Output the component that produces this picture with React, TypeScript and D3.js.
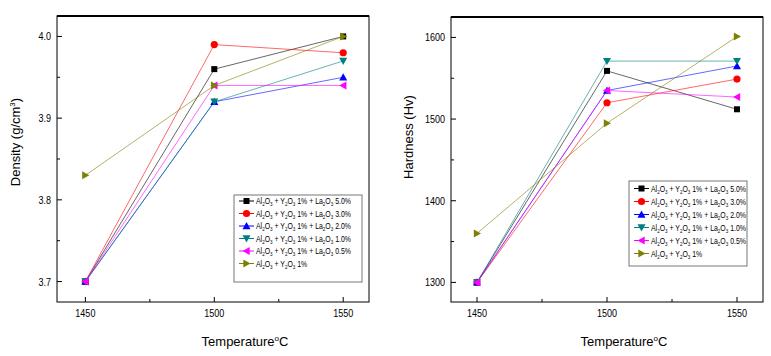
import React from 'react';
import * as d3 from 'd3';

const temperatures = [1450, 1500, 1550];
const seriesNames = [
  'Al_2O_3 + Y_2O_3 1% + La_2O_3 5.0%',
  'Al_2O_3 + Y_2O_3 1% + La_2O_3 3.0%',
  'Al_2O_3 + Y_2O_3 1% + La_2O_3 2.0%',
  'Al_2O_3 + Y_2O_3 1% + La_2O_3 1.0%',
  'Al_2O_3 + Y_2O_3 1% + La_2O_3 0.5%',
  'Al_2O_3 + Y_2O_3 1%',
];
const densityLa50 = [3.70, 3.96, 4.00];
const densityLa30 = [3.70, 3.99, 3.98];
const densityLa20 = [3.70, 3.92, 3.95];
const densityLa10 = [3.70, 3.92, 3.97];
const densityLa05 = [3.70, 3.94, 3.94];
const densityLa00 = [3.83, 3.94, 4.00];
const hardnessLa50 = [1300, 1559, 1512];
const hardnessLa30 = [1300, 1520, 1549];
const hardnessLa20 = [1300, 1535, 1565];
const hardnessLa10 = [1300, 1571, 1571];
const hardnessLa05 = [1300, 1535, 1527];
const hardnessLa00 = [1360, 1495, 1601];
const densityTicks = [3.7, 3.8, 3.9, 4.0];
const densityMinor = [3.75, 3.85, 3.95];
const hardnessTicks = [1300, 1400, 1500, 1600];
const hardnessMinor = [1350, 1450, 1550];
const xMinor = [1475, 1525];
const colors = ['#000000', '#ff0000', '#0000ff', '#008080', '#ff00ff', '#808000'];
const shapes = ['square', 'circle', 'up', 'down', 'left', 'right'];

const FONT = "'Liberation Sans', Arial, sans-serif";

function Marker({ shape, x, y, color, r = 3.6 }: any) {
  if (shape === 'square') return <rect x={x - 3} y={y - 3} width={6} height={6} fill={color} />;
  if (shape === 'circle') return <circle cx={x} cy={y} r={r} fill={color} />;
  let pts: number[][] = [];
  const s = 4;
  if (shape === 'up') pts = [[x, y - s], [x + s, y + s * 0.8], [x - s, y + s * 0.8]];
  if (shape === 'down') pts = [[x, y + s], [x + s, y - s * 0.8], [x - s, y - s * 0.8]];
  if (shape === 'left') pts = [[x - s, y], [x + s * 0.8, y - s], [x + s * 0.8, y + s]];
  if (shape === 'right') pts = [[x + s, y], [x - s * 0.8, y - s], [x - s * 0.8, y + s]];
  return <polygon points={pts.map(p => p.join(',')).join(' ')} fill={color} />;
}

function SText({ x, y, sx = 0.8, anchor = 'start', size, children }: any) {
  return (
    <g transform={`translate(${x},${y}) scale(${sx},1)`}>
      <text x={0} y={0} textAnchor={anchor} fontSize={size} fontFamily={FONT} fill="#000">{children}</text>
    </g>
  );
}

function subParts(text: string, size: number) {
  const parts = text.split(/(_\d)/);
  const nodes: any[] = [];
  let shifted = false;
  parts.forEach((p: string, i: number) => {
    if (!p) return;
    if (p.startsWith('_')) {
      nodes.push(<tspan key={i} dy={shifted ? 0 : 2} fontSize={size * 0.65}>{p.slice(1)}</tspan>);
      shifted = true;
    } else {
      nodes.push(<tspan key={i} dy={shifted ? -2 : 0}>{p}</tspan>);
      shifted = false;
    }
  });
  return nodes;
}

function Chart(props: any) {
  const { x0, x1, y0, y1, xDomain, yDomain, yTicks, yMinor, yFmt, data, legend, title, titleX, titleY, xTitleX } = props;
  const xs = d3.scaleLinear().domain(xDomain).range([x0, x1]);
  const ys = d3.scaleLinear().domain(yDomain).range([y1, y0]);
  const line = d3.line<number>().x((_, i) => xs(temperatures[i])).y(d => ys(d));
  return (
    <g>
      {data.map((d: number[], si: number) => (
        <path key={'l' + si} d={line(d) || ''} fill="none" stroke={colors[si]} strokeWidth={0.8} strokeOpacity={0.75} />
      ))}
      {data.map((d: number[], si: number) => d.map((v, i) => (
        <Marker key={'m' + si + '-' + i} shape={shapes[si]} x={xs(temperatures[i])} y={ys(v)} color={colors[si]} />
      )))}
      <rect x={x0} y={y0} width={x1 - x0} height={y1 - y0} fill="none" stroke="#000" strokeWidth={1} />
      <line x1={x0} x2={x1} y1={y0} y2={y0} stroke="#000" strokeWidth={2} />
      {yTicks.map((t: number) => (
        <g key={'yt' + t}>
          <line x1={x0} x2={x0 + 5} y1={ys(t)} y2={ys(t)} stroke="#000" />
          <SText x={x0 - 6} y={ys(t) + 4} anchor="end" size={11} sx={0.82}>{yFmt(t)}</SText>
        </g>
      ))}
      {yMinor.map((t: number) => (
        <line key={'ym' + t} x1={x0} x2={x0 + 3} y1={ys(t)} y2={ys(t)} stroke="#000" />
      ))}
      {temperatures.map(t => (
        <g key={'xt' + t}>
          <line x1={xs(t)} x2={xs(t)} y1={y1} y2={y1 - 5} stroke="#000" />
          <SText x={xs(t)} y={y1 + 15} anchor="middle" size={11} sx={0.82}>{t}</SText>
        </g>
      ))}
      {xMinor.map(t => (
        <line key={'xm' + t} x1={xs(t)} x2={xs(t)} y1={y1} y2={y1 - 3} stroke="#000" />
      ))}
      <text x={xTitleX} y={346} textAnchor="middle" fontSize={13} fontFamily={FONT}>
        Temperature<tspan dy={-5} fontSize={8}>o</tspan><tspan dy={5}>C</tspan>
      </text>
      <text transform={`translate(${titleX},${titleY}) rotate(-90)`} textAnchor="middle" fontSize={13} fontFamily={FONT} dy="0.35em">
        {title}
      </text>
      <rect x={legend.x} y={legend.y} width={legend.w} height={legend.h} fill="#fff" stroke="#777" strokeWidth={1} />
      {seriesNames.map((n, i) => {
        const ly = legend.y + legend.first + i * legend.step;
        return (
          <g key={'lg' + i}>
            <line x1={legend.x + 5} x2={legend.x + 20} y1={ly} y2={ly} stroke={colors[i]} />
            <Marker shape={shapes[i]} x={legend.x + 12.5} y={ly} color={colors[i]} />
            <SText x={legend.x + 22} y={ly + 3} size={9} sx={0.77}>{subParts(n, 9)}</SText>
          </g>
        );
      })}
    </g>
  );
}

export default function App() {
  const densityData = [densityLa50, densityLa30, densityLa20, densityLa10, densityLa05, densityLa00];
  const hardnessData = [hardnessLa50, hardnessLa30, hardnessLa20, hardnessLa10, hardnessLa05, hardnessLa00];
  return (
    <svg width={771} height={356} style={{ position: 'absolute', left: 0, top: 0, background: '#fff' }}>
      <rect width={771} height={356} fill="#fff" />
      <Chart x0={57} x1={369} y0={16} y1={302} xDomain={[1439, 1560]} yDomain={[3.675, 4.025]}
        yTicks={densityTicks} yMinor={densityMinor} yFmt={(v: number) => v.toFixed(1)} data={densityData}
        legend={{ x: 234, y: 195, w: 128, h: 87, first: 6, step: 12.5 }}
        title={<>Density (g/cm<tspan dy={-5} fontSize={8}>3</tspan><tspan dy={5}>)</tspan></>}
        titleX={15.5} titleY={142} xTitleX={245} />
      <Chart x0={451} x1={763} y0={17} y1={302} xDomain={[1440, 1560]} yDomain={[1276, 1625]}
        yTicks={hardnessTicks} yMinor={hardnessMinor} yFmt={(v: number) => String(v)} data={hardnessData}
        legend={{ x: 629, y: 181, w: 118, h: 85, first: 7.5, step: 13 }}
        title="Hardness (Hv)" titleX={408} titleY={137} xTitleX={624} />
    </svg>
  );
}
